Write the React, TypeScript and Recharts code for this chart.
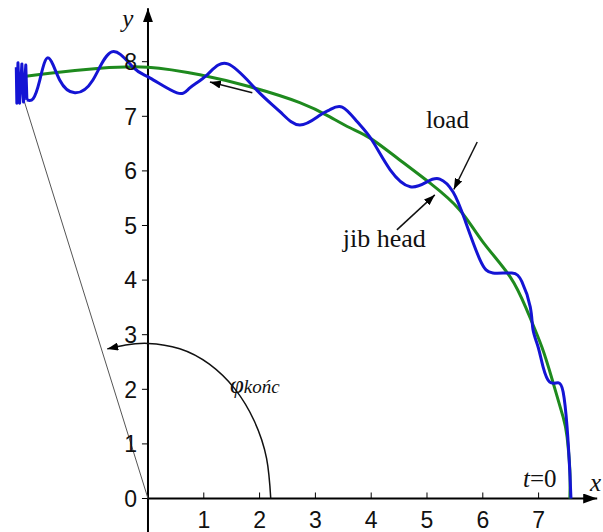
import React from 'react';
import { LineChart, Line, XAxis, YAxis, ReferenceLine, ReferenceDot } from 'recharts';

// trajectory of the load (pendulum swings), from t=0 at the right
const loadX = [7.58, 7.56, 7.51, 7.44, 7.35, 7.20, 7.08, 6.99, 6.90, 6.85, 6.70, 6.52, 6.18, 5.95, 5.68, 5.47, 5.23, 5.00, 4.70, 4.34, 4.01, 3.75, 3.48, 3.26, 3.08, 2.72, 2.37, 1.95, 1.43, 1.06, 0.75, 0.52, 0.04, -0.27, -0.65, -0.99, -1.31, -1.58, -1.79, -1.94, -2.06, -2.17];
const loadY = [0, 0.47, 1.31, 1.95, 2.12, 2.13, 2.41, 2.78, 3.09, 3.51, 3.97, 4.13, 4.13, 4.37, 5.10, 5.61, 5.85, 5.80, 5.71, 6.02, 6.57, 6.90, 7.17, 7.12, 7.02, 6.84, 7.08, 7.48, 7.96, 7.76, 7.52, 7.43, 7.70, 7.90, 8.18, 7.66, 7.43, 7.66, 8.07, 7.66, 7.32, 7.30];

// last fast swings of the load at the end of slewing
const loadEndX = [-2.17, -2.19, -2.23, -2.26, -2.30, -2.33, -2.35, -2.36];
const loadEndY = [7.30, 7.94, 7.26, 7.96, 7.24, 7.98, 7.24, 7.90];

// trajectory of the jib head
const jibX = [7.56, 7.56, 7.51, 7.44, 7.26, 7.06, 6.79, 6.49, 6.00, 5.59, 5.05, 4.46, 3.98, 3.62, 3.26, 2.72, 1.83, 0.93, 0, -0.86, -1.76, -2.29];
const jibY = [0, 0.52, 1.13, 1.49, 2.12, 2.77, 3.45, 4.06, 4.70, 5.28, 5.78, 6.24, 6.60, 6.79, 6.99, 7.25, 7.54, 7.76, 7.90, 7.88, 7.79, 7.72];

// slewing angle arc
const arcX = [2.20, 2.125, 1.905, 1.556, 1.10, 0.569, 0, -0.40, -0.73];
const arcY = [0, 0.735, 1.42, 2.008, 2.46, 2.743, 2.84, 2.81, 2.74];

const xTicks = [1, 2, 3, 4, 5, 6, 7];
const yTicks = [0, 1, 2, 3, 4, 5, 6, 7, 8];

const X_MIN = -2.652;
const X_MAX = 8.154;
const Y_MAX = 9.13;

const SANS = '"Liberation Sans", Arial, sans-serif';
const SERIF = '"Liberation Serif", "Times New Roman", serif';

const toPoints = (xs: number[], ys: number[]) => xs.map((x, i) => ({ x, y: ys[i] }));

const loadData = toPoints(loadX, loadY);
const loadEndData = toPoints(loadEndX, loadEndY);
const jibData = toPoints(jibX, jibY);
const arcData = toPoints(arcX, arcY);

const textAt = (content: React.ReactNode, extra: Record<string, any> = {}) => (p: any) => (
  <text x={p.cx} y={p.cy} fontFamily={SERIF} fontSize={25} fill="#111" {...extra}>
    {content}
  </text>
);

export default function App() {
  return (
    <div style={{ position: 'absolute', left: 0, top: 0 }}>
      <LineChart width={603} height={532} margin={{ top: 0, right: 0, bottom: 0, left: 0 }}>
        <defs>
          <marker id="axisHead" viewBox="0 0 14 10" refX="14" refY="5" markerWidth="14" markerHeight="10" markerUnits="userSpaceOnUse" orient="auto">
            <path d="M0,0 L14,5 L0,10 z" fill="#000" />
          </marker>
          <marker id="head" viewBox="0 0 11 8" refX="11" refY="4" markerWidth="11" markerHeight="8" markerUnits="userSpaceOnUse" orient="auto">
            <path d="M0,0 L11,4 L0,8 z" fill="#000" />
          </marker>
        </defs>
        <XAxis
          type="number"
          dataKey="x"
          domain={[X_MIN, X_MAX]}
          ticks={xTicks}
          axisLine={false}
          tickLine={false}
          tickMargin={7}
          height={33.5}
          tick={{ fill: '#111', fontSize: 23, fontFamily: SANS }}
        />
        <YAxis type="number" dataKey="y" domain={[0, Y_MAX]} hide />

        {/* axes with arrows */}
        <ReferenceLine segment={[{ x: 0, y: 0 }, { x: 8.05, y: 0 }]} stroke="#000" strokeWidth={2} ifOverflow="visible" markerEnd="url(#axisHead)" />
        <ReferenceLine segment={[{ x: 0, y: -0.62 }, { x: 0, y: 8.98 }]} stroke="#000" strokeWidth={2} ifOverflow="visible" markerEnd="url(#axisHead)" />
        {xTicks.map((t) => (
          <ReferenceLine key={'xt' + t} segment={[{ x: t, y: 0 }, { x: t, y: 0.11 }]} stroke="#000" strokeWidth={1} ifOverflow="visible" />
        ))}
        {yTicks.map((t) => (
          <ReferenceLine key={'yt' + t} segment={[{ x: -0.108, y: t }, { x: 0, y: t }]} stroke="#000" strokeWidth={1} ifOverflow="visible" />
        ))}
        {yTicks.map((t) => (
          <ReferenceDot
            key={'yl' + t}
            x={0}
            y={t}
            r={0}
            ifOverflow="visible"
            shape={(p: any) => (
              <text x={p.cx - 11} y={p.cy} dy="0.36em" textAnchor="end" fontFamily={SANS} fontSize={23} fill="#111">
                {t}
              </text>
            )}
          />
        ))}

        {/* jib line at the final position */}
        <ReferenceLine segment={[{ x: 0, y: 0 }, { x: -2.24, y: 7.35 }]} stroke="#555" strokeWidth={1} ifOverflow="visible" />

        <Line data={arcData} dataKey="y" type="natural" stroke="#111" strokeWidth={1.5} dot={false} activeDot={false} isAnimationActive={false} markerEnd="url(#head)" />
        <Line data={jibData} dataKey="y" type="natural" stroke="#1e8a1e" strokeWidth={3} dot={false} activeDot={false} isAnimationActive={false} />
        <Line data={loadData} dataKey="y" type="natural" stroke="#1414d4" strokeWidth={3} dot={false} activeDot={false} isAnimationActive={false} />
        <Line data={loadEndData} dataKey="y" type="linear" stroke="#1414d4" strokeWidth={3} strokeLinejoin="round" dot={false} activeDot={false} isAnimationActive={false} />

        {/* annotation arrows */}
        <ReferenceLine segment={[{ x: 1.87, y: 7.43 }, { x: 1.11, y: 7.63 }]} stroke="#111" strokeWidth={1.5} ifOverflow="visible" markerEnd="url(#head)" />
        <ReferenceLine segment={[{ x: 5.90, y: 6.53 }, { x: 5.48, y: 5.66 }]} stroke="#111" strokeWidth={1.5} ifOverflow="visible" markerEnd="url(#head)" />
        <ReferenceLine segment={[{ x: 4.46, y: 4.92 }, { x: 5.14, y: 5.56 }]} stroke="#111" strokeWidth={1.5} ifOverflow="visible" markerEnd="url(#head)" />

        {/* labels */}
        <ReferenceDot x={-0.36} y={8.64} r={0} ifOverflow="visible" shape={textAt('y', { fontStyle: 'italic', textAnchor: 'middle' })} />
        <ReferenceDot x={7.92} y={0.14} r={0} ifOverflow="visible" shape={textAt('x', { fontStyle: 'italic' })} />
        <ReferenceDot x={4.98} y={6.79} r={0} ifOverflow="visible" shape={textAt('load')} />
        <ReferenceDot x={3.49} y={4.61} r={0} ifOverflow="visible" shape={textAt('jib head', { fontSize: 26 })} />
        <ReferenceDot
          x={6.72}
          y={0.21}
          r={0}
          ifOverflow="visible"
          shape={textAt(
            <>
              <tspan fontStyle="italic">t</tspan>
              <tspan>=0</tspan>
            </>
          )}
        />
        <ReferenceDot
          x={1.47}
          y={1.93}
          r={0}
          ifOverflow="visible"
          shape={textAt(
            <>
              <tspan fontStyle="italic">φ</tspan>
              <tspan fontStyle="italic" fontSize={19}>końc</tspan>
            </>
          )}
        />
      </LineChart>
    </div>
  );
}
